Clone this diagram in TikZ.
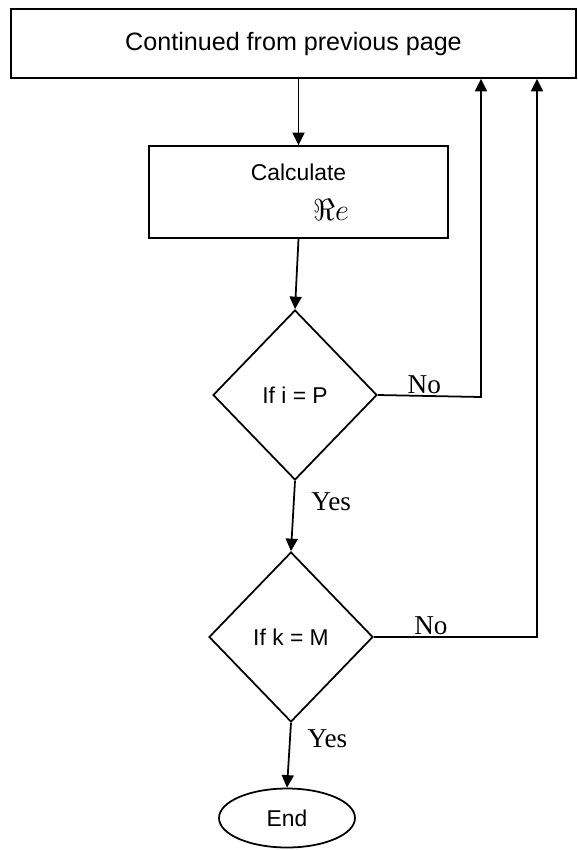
\documentclass[tikz,border=0pt]{standalone}
\usepackage{fontspec}
\setmainfont{Liberation Serif}
\newfontfamily\boxfont{Liberation Sans}
\usetikzlibrary{shapes.geometric,arrows.meta,positioning}
\tikzset{
  box/.style  ={rectangle, draw=black, line width=1pt, align=center,
                font=\boxfont\fontsize{13}{15}\selectfont},
  dec/.style  ={diamond, draw=black, line width=1pt, inner sep=0pt,
                minimum width=3.28cm, minimum height=3.4cm,
                font=\boxfont\fontsize{13}{15}\selectfont},
  term/.style ={ellipse, draw=black, line width=1pt, inner sep=0pt,
                minimum width=2.72cm, minimum height=1.18cm,
                font=\boxfont\fontsize{13}{15}\selectfont},
  flow/.style ={-{Triangle[length=2.5mm,width=2.4mm]}, line width=1pt},
  lbl/.style  ={font=\fontsize{15.5}{17}\selectfont, inner sep=1pt}
}
\begin{document}
\begin{tikzpicture}[x=0.02cm, y=-0.02cm]
\useasboundingbox (0,0) rectangle (578,850);

% Boxes and decisions
\node[box, minimum width=11.3cm, minimum height=1.38cm,
      font=\boxfont\fontsize{14.3}{16}\selectfont] (prev) at (293.5,43.5) {Continued from previous page};
\node[box, minimum width=5.98cm, minimum height=1.84cm] (calc) at (298.5,192)
      {Calculate\\[8pt]\hspace*{1.3cm}{\fontsize{16}{18}\selectfont$\Re e$}};
\node[dec] (ifi) at (295,395) {If i = P};
\node[dec] (ifk) at (291,637) {If k = M};
\node[term] (end) at (287,818) {End};

% Loop-back corners
\coordinate (ri) at (481,397);
\coordinate (rk) at (537,637);

% Connectors
\draw[flow] (calc.north |- prev.south) -- (calc.north);
\draw[flow] (calc.south) -- (ifi.north);
\draw[flow] (ifi.east) -- node[lbl, above, pos=0.45] {No} (ri) -- (ri |- prev.south);
\draw[flow] (ifi.south) -- node[lbl, anchor=west, pos=0.3, xshift=0.3cm] {Yes} (ifk.north);
\draw[flow] (ifk.east) -- node[lbl, above, pos=0.35] {No} (rk) -- (rk |- prev.south);
\draw[flow] (ifk.south) -- node[lbl, anchor=west, pos=0.25, xshift=0.3cm] {Yes} (end.north);
\end{tikzpicture}
\end{document}
